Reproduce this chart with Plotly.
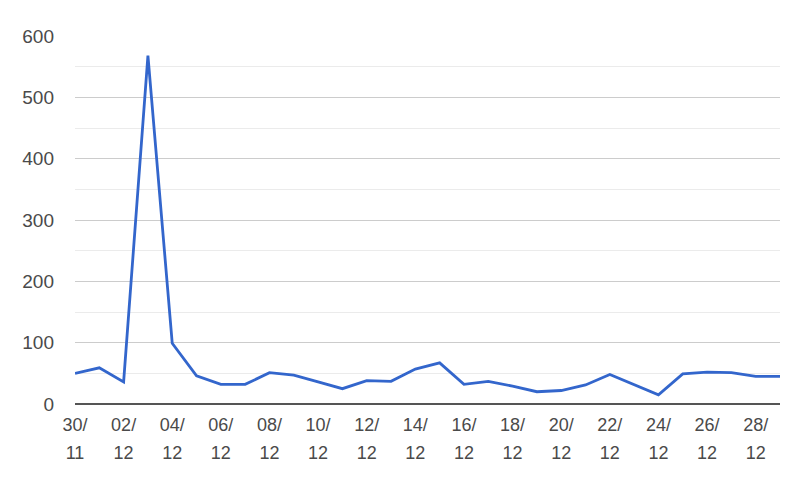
import plotly.graph_objects as go

dates = ["30/11", "01/12", "02/12", "03/12", "04/12", "05/12", "06/12", "07/12", "08/12", "09/12",
         "10/12", "11/12", "12/12", "13/12", "14/12", "15/12", "16/12", "17/12", "18/12", "19/12",
         "20/12", "21/12", "22/12", "23/12", "24/12", "25/12", "26/12", "27/12", "28/12", "29/12"]
values = [50, 59, 36, 568, 99, 46, 32, 32, 51, 47,
          36, 25, 38, 37, 57, 67, 32, 37, 29, 20,
          22, 31, 48, 31, 15, 49, 52, 51, 45, 45]
tick_dates = dates[::2]
tick_days = [d.split("/")[0] + "/" for d in tick_dates]
tick_months = [d.split("/")[1] for d in tick_dates]
y_ticks = [0, 100, 200, 300, 400, 500, 600]

FONT = "Liberation Sans, Arial, sans-serif"
TXT = "#4a4a4a"

fig = go.Figure()
fig.add_trace(go.Scatter(x=dates, y=values, mode="lines",
                         line=dict(color="#3366cc", width=2.8), hoverinfo="x+y"))
fig.add_trace(go.Scatter(x=dates, y=values, mode="lines", xaxis="x2",
                         line=dict(color="rgba(0,0,0,0)", width=0), hoverinfo="skip"))

fig.update_layout(
    width=800, height=483,
    margin=dict(l=67, r=28, t=28, b=87, autoexpand=False),
    paper_bgcolor="white", plot_bgcolor="white",
    showlegend=False,
    font=dict(family=FONT, size=18, color=TXT),
    xaxis=dict(
        type="category", range=[0, 29], automargin=False,
        tickmode="array", tickvals=tick_dates, ticktext=tick_days,
        showgrid=False, zeroline=False, showline=False, ticks="",
        ticklabelstandoff=8,
        tickfont=dict(family=FONT, size=18, color=TXT),
    ),
    xaxis2=dict(
        type="category", range=[0, 29], automargin=False,
        overlaying="x", side="bottom", anchor="y",
        tickmode="array", tickvals=tick_dates, ticktext=tick_months,
        showgrid=False, zeroline=False, showline=False, ticks="",
        ticklabelstandoff=36,
        tickfont=dict(family=FONT, size=18, color=TXT),
    ),
    yaxis=dict(
        range=[0, 600], tickmode="array", tickvals=y_ticks, automargin=False,
        showgrid=True, gridcolor="#cccccc", gridwidth=1,
        minor=dict(dtick=50, showgrid=True, gridcolor="#ebebeb", gridwidth=1),
        zeroline=True, zerolinecolor="#555555", zerolinewidth=2,
        showline=False, ticks="", ticklabelstandoff=20,
        tickfont=dict(family=FONT, size=19, color=TXT),
    ),
)

fig.write_html("out.html")
